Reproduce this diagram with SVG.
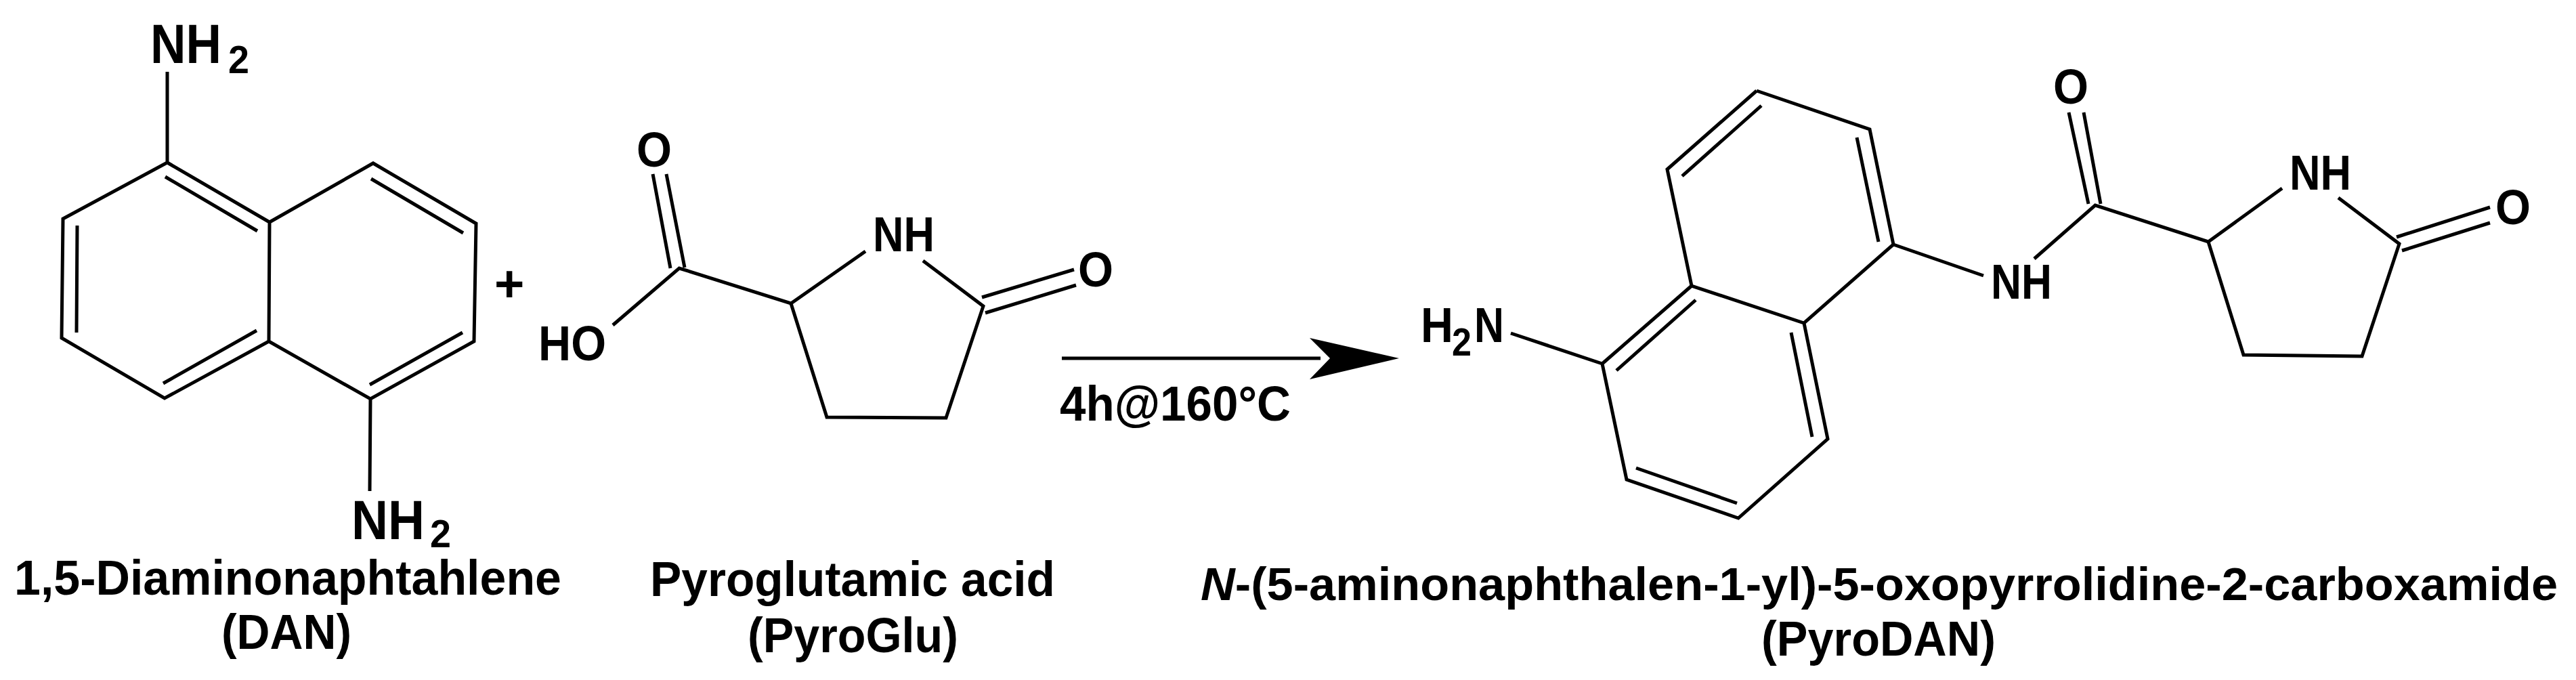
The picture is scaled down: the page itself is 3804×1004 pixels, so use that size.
<svg xmlns="http://www.w3.org/2000/svg" width="3804" height="1004" viewBox="0 0 3804 1004">
<style>
.b{fill:none;stroke:#000;stroke-width:5;stroke-linejoin:miter;stroke-linecap:butt}
.t{font-family:"Liberation Sans",Arial,sans-serif;font-weight:700;font-size:72px;fill:#000}
.a{font-size:82px}
.s{font-size:58px}
</style>
<rect width="3804" height="1004" fill="#fff"/>
<g id="dan">
<path class="b" d="M247 106V240L93 323L91 499L243 588L397 504L398 328L247 240M398 328L551 241L703 330L700 504L547 589L397 504M547 589L546 725M244 261L380 341M114 333L113 491M241 566L379 488M548 264L684 344M546 568L683 491"/>
<text class="t a" x="222" y="93" textLength="105" lengthAdjust="spacingAndGlyphs">NH</text>
<text class="t s" x="337" y="108" textLength="31" lengthAdjust="spacingAndGlyphs">2</text>
<text class="t a" x="519" y="796" textLength="108" lengthAdjust="spacingAndGlyphs">NH</text>
<text class="t s" x="635" y="808" textLength="31" lengthAdjust="spacingAndGlyphs">2</text>
<text class="t" x="21" y="878" textLength="808" lengthAdjust="spacingAndGlyphs">1,5-Diaminonaphtahlene</text>
<text class="t" x="327" y="958" textLength="192" lengthAdjust="spacingAndGlyphs">(DAN)</text>
</g>
<g id="plus"><text class="t" x="730" y="445" style="font-size:76px">+</text></g>
<g id="pyroglu">
<path class="b" d="M964 257L990 396M984 257L1011 395M905 480L1003 396L1168 448L1278 371M1363 385L1452 452L1397 617L1221 616L1168 448M1450 439L1586 398M1455 462L1589 421"/>
<text class="t" x="940" y="246" textLength="52" lengthAdjust="spacingAndGlyphs">O</text>
<text class="t" x="1289" y="371" textLength="91" lengthAdjust="spacingAndGlyphs">NH</text>
<text class="t" x="1592" y="423" textLength="52" lengthAdjust="spacingAndGlyphs">O</text>
<text class="t" x="795" y="532" textLength="100" lengthAdjust="spacingAndGlyphs">HO</text>
<text class="t" x="960" y="880" textLength="598" lengthAdjust="spacingAndGlyphs">Pyroglutamic acid</text>
<text class="t" x="1104" y="963" textLength="311" lengthAdjust="spacingAndGlyphs">(PyroGlu)</text>
</g>
<g id="connectors">
<path d="M1568 529H1950" fill="none" stroke="#000" stroke-width="5"/>
<path d="M1934 499L2066 529L1934 560L1964 529Z" fill="#000"/>
</g>
<g id="condition"><text class="t" x="1565" y="621" textLength="341" lengthAdjust="spacingAndGlyphs">4h@160°C</text></g>
<g id="pyrodan">
<path class="b" d="M2594 134L2761 191L2796 361L2664 477L2498 422L2462 250L2594 134M2498 422L2366 537L2402 708L2567 765L2699 648L2664 477M2601 156L2484 260M2742 203L2774 357M2504 443L2387 547M2645 491L2676 645M2416 691L2565 743M2231 492L2366 537M2796 361L2929 407M3004 382L3094 303L3261 357L3370 278M3453 292L3543 360L3488 526L3313 524L3261 357M3055 166L3084 301M3077 166L3102 301M3539 350L3677 306M3547 370L3677 329"/>
<text class="t" x="2098" y="505" textLength="48" lengthAdjust="spacingAndGlyphs">H</text>
<text class="t s" x="2144" y="525" textLength="29" lengthAdjust="spacingAndGlyphs">2</text>
<text class="t" x="2177" y="505" textLength="44" lengthAdjust="spacingAndGlyphs">N</text>
<text class="t" x="2940" y="441" textLength="90" lengthAdjust="spacingAndGlyphs">NH</text>
<text class="t" x="3032" y="153" textLength="52" lengthAdjust="spacingAndGlyphs">O</text>
<text class="t" x="3381" y="280" textLength="91" lengthAdjust="spacingAndGlyphs">NH</text>
<text class="t" x="3685" y="331" textLength="52" lengthAdjust="spacingAndGlyphs">O</text>
<text class="t" x="1773" y="886" textLength="2004" lengthAdjust="spacingAndGlyphs" style="font-size:69px"><tspan font-style="italic">N</tspan>-(5-aminonaphthalen-1-yl)-5-oxopyrrolidine-2-carboxamide</text>
<text class="t" x="2601" y="968" textLength="346" lengthAdjust="spacingAndGlyphs">(PyroDAN)</text>
</g>
</svg>
